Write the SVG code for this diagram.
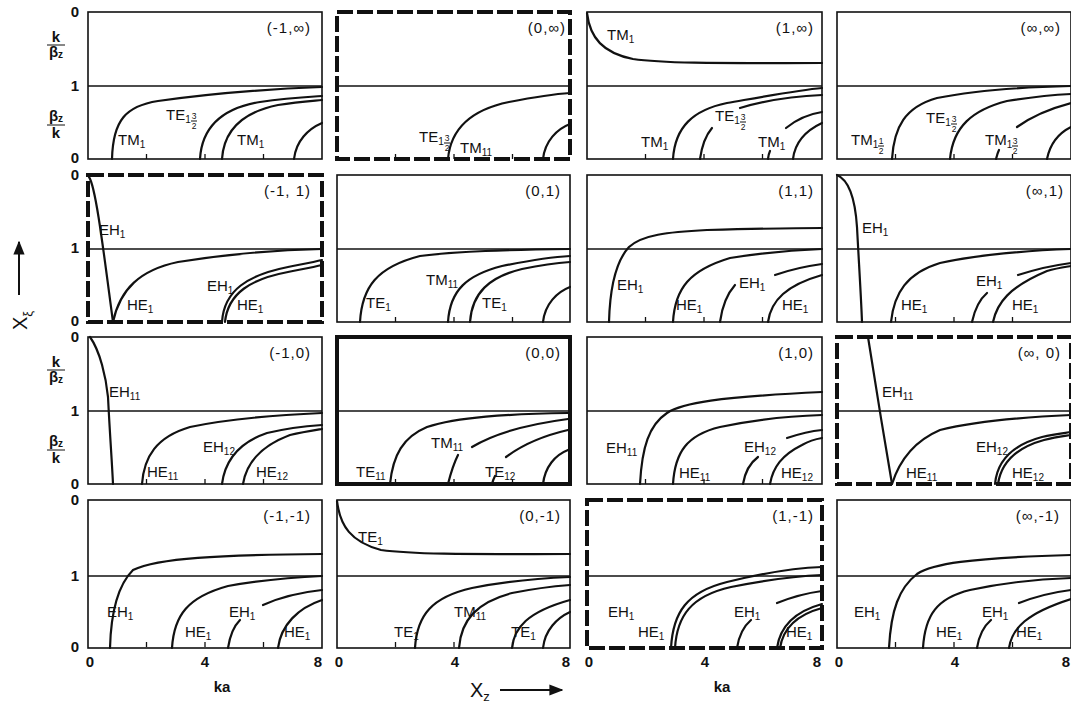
<svg xmlns="http://www.w3.org/2000/svg" width="1071" height="704" viewBox="0 0 1071 704">
<style>
.bg{fill:#fff}
.fr{fill:none;stroke:#111;stroke-width:1.6}
.fb{fill:none;stroke:#111;stroke-width:4}
.fd{fill:none;stroke:#111;stroke-width:4;stroke-dasharray:16 4}
.mid{stroke:#111;stroke-width:1.5}
.tk{stroke:#111;stroke-width:1.3}
.c{fill:none;stroke:#111;stroke-width:2.2;stroke-linecap:round}
text{font-family:"Liberation Sans",Arial,sans-serif;fill:#111}
.l{font-size:15px}
.s{font-size:10px}
.f{font-size:8.5px;text-anchor:middle}
.id{font-size:15px;text-anchor:end;letter-spacing:1px}
.ax{font-size:15px;font-weight:bold;text-anchor:middle}
.fl{stroke:#111;stroke-width:1}
</style>
<defs>
<g id="ticks"><line class="tk" x1="58.5" y1="147" x2="58.5" y2="142"/><line class="tk" x1="117" y1="147" x2="117" y2="142"/><line class="tk" x1="175.5" y1="147" x2="175.5" y2="142"/></g>
<marker id="ah" viewBox="0 0 10 10" refX="9" refY="5" markerWidth="7" markerHeight="7" orient="auto"><path d="M0,1 L10,5 L0,9 z" fill="#111"/></marker>
</defs>
<rect class="bg" x="0" y="0" width="1071" height="704"/>

<!-- Row 1 -->
<g id="p-m1-inf" transform="translate(88,12)">
<rect class="fr" x="0" y="0" width="234" height="147"/>
<line class="mid" x1="0" y1="74" x2="234" y2="74"/><use href="#ticks"/>
<path class="c" d="M24,147 C25,108 38,94 70,89 C120,82 180,77 234,75"/>
<path class="c" d="M112,147 C114,113 136,96 172,90 C198,86 218,85 234,84"/>
<path class="c" d="M134,147 C136,117 156,100 190,93 C210,90 224,89 234,88"/>
<path class="c" d="M206,147 C208,129 220,117 234,111"/>
<text class="l" x="30" y="133">TM<tspan class="s" dy="3">1</tspan></text>
<text class="l" x="78" y="108">TE<tspan class="s" dy="3">1</tspan></text><text class="f" x="106" y="107">3</text><line class="fl" x1="103" y1="109" x2="109" y2="109"/><text class="f" x="106" y="117">2</text>
<text class="l" x="149" y="133">TM<tspan class="s" dy="3">1</tspan></text>
<text class="id" x="223" y="21">(-1,∞)</text>
</g>

<g id="p-0-inf" transform="translate(337,12)">
<rect class="fd" x="0" y="0" width="233" height="147"/>
<line class="mid" x1="0" y1="74" x2="233" y2="74"/><use href="#ticks"/>
<path class="c" d="M111,147 C114,113 138,97 172,90 C198,85 218,82 233,81"/>
<path class="c" d="M206,147 C208,129 220,117 233,112"/>
<text class="l" x="82" y="130">TE<tspan class="s" dy="3">1</tspan></text><text class="f" x="110" y="129">3</text><line class="fl" x1="107" y1="131" x2="113" y2="131"/><text class="f" x="110" y="139">2</text>
<text class="l" x="123" y="141">TM<tspan class="s" dy="3">11</tspan></text>
<text class="id" x="229" y="21">(0,∞)</text>
</g>

<g id="p-1-inf" transform="translate(587,12)">
<rect class="fr" x="0" y="0" width="235" height="147"/>
<line class="mid" x1="0" y1="74" x2="235" y2="74"/><use href="#ticks"/>
<path class="c" d="M0,1 C3,26 16,41 46,47 C80,52 150,51 235,51"/>
<path class="c" d="M86,147 C88,115 106,98 140,91 C180,84 212,78 235,76"/>
<path class="c" d="M113,147 C115,133 119,123 125,116"/>
<path class="c" d="M153,96 C180,88 210,84 235,83"/>
<path class="c" d="M181,147 C181.5,143 182,141 183,139"/>
<path class="c" d="M199,116 C210,107 222,102 235,100"/>
<path class="c" d="M206,147 C208,130 220,118 235,111"/>
<text class="l" x="20" y="28">TM<tspan class="s" dy="3">1</tspan></text>
<text class="l" x="54" y="135">TM<tspan class="s" dy="3">1</tspan></text>
<text class="l" x="128" y="109">TE<tspan class="s" dy="3">1</tspan></text><text class="f" x="156" y="108">3</text><line class="fl" x1="153" y1="110" x2="159" y2="110"/><text class="f" x="156" y="118">2</text>
<text class="l" x="171" y="135">TM<tspan class="s" dy="3">1</tspan></text>
<text class="id" x="227" y="21">(1,∞)</text>
</g>

<g id="p-inf-inf" transform="translate(837,12)">
<rect class="fr" x="0" y="0" width="234" height="147"/>
<line class="mid" x1="0" y1="74" x2="234" y2="74"/><use href="#ticks"/>
<path class="c" d="M55,147 C57,115 68,95 100,86 C140,78 190,75 234,74"/>
<path class="c" d="M113,147 C116,115 135,98 170,89 C195,85 215,83 234,82"/>
<path class="c" d="M159,147 C160,143 161,140 162,138"/>
<path class="c" d="M180,115 C195,104 215,96 234,91"/>
<path class="c" d="M210,147 C213,132 222,121 234,115"/>
<text class="l" x="14" y="133">TM<tspan class="s" dy="3">1</tspan></text><text class="f" x="44" y="132">1</text><line class="fl" x1="41" y1="134" x2="47" y2="134"/><text class="f" x="44" y="142">2</text>
<text class="l" x="89" y="111">TE<tspan class="s" dy="3">1</tspan></text><text class="f" x="117" y="110">3</text><line class="fl" x1="114" y1="112" x2="120" y2="112"/><text class="f" x="117" y="120">2</text>
<text class="l" x="148" y="133">TM<tspan class="s" dy="3">1</tspan></text><text class="f" x="178" y="132">3</text><line class="fl" x1="175" y1="134" x2="181" y2="134"/><text class="f" x="178" y="142">2</text>
<text class="id" x="224" y="21">(∞,∞)</text>
</g>

<!-- Row 2 -->
<g id="p-m1-1" transform="translate(88,175)">
<rect class="fd" x="0" y="0" width="234" height="147"/>
<line class="mid" x1="0" y1="74" x2="234" y2="74"/>
<path class="c" d="M1,2 C8,12 16,80 25,147"/>
<path class="c" d="M25,147 C32,114 52,95 90,87 C140,79 190,75 234,74"/>
<path class="c" d="M134,147 C136,115 160,100 200,92 C215,89 226,87 234,85"/>
<path class="c" d="M137,147 C140,118 163,104 200,97 C215,94 226,92 234,90"/>
<text class="l" x="11" y="60">EH<tspan class="s" dy="3">1</tspan></text>
<text class="l" x="39" y="135">HE<tspan class="s" dy="3">1</tspan></text>
<text class="l" x="119" y="116">EH<tspan class="s" dy="3">1</tspan></text>
<text class="l" x="149" y="135">HE<tspan class="s" dy="3">1</tspan></text>
<text class="id" x="223" y="21">(-1, 1)</text>
</g>

<g id="p-0-1" transform="translate(337,175)">
<rect class="fr" x="0" y="0" width="233" height="147"/>
<line class="mid" x1="0" y1="74" x2="233" y2="74"/><use href="#ticks"/>
<path class="c" d="M23,147 C25,112 40,92 83,81 C120,76 170,75 233,74"/>
<path class="c" d="M111,147 C113,115 130,100 165,91 C195,85 215,82 233,81"/>
<path class="c" d="M133,147 C135,118 152,102 185,94 C205,90 220,88 233,87"/>
<path class="c" d="M206,147 C208,129 220,117 233,112"/>
<text class="l" x="29" y="133">TE<tspan class="s" dy="3">1</tspan></text>
<text class="l" x="89" y="110">TM<tspan class="s" dy="3">11</tspan></text>
<text class="l" x="145" y="133">TE<tspan class="s" dy="3">1</tspan></text>
<text class="id" x="224" y="21">(0,1)</text>
</g>

<g id="p-1-1" transform="translate(587,175)">
<rect class="fr" x="0" y="0" width="235" height="147"/>
<line class="mid" x1="0" y1="74" x2="235" y2="74"/><use href="#ticks"/>
<path class="c" d="M22,147 C23,110 30,85 42,72 C55,60 80,57 120,55 C160,54 200,53 235,53"/>
<path class="c" d="M86,147 C88,113 103,95 143,83 C180,77 210,75 235,74"/>
<path class="c" d="M133,147 C135,132 140,119 148,110"/>
<path class="c" d="M188,100 C205,94 220,91 235,89"/>
<path class="c" d="M181,147 C184,125 200,110 235,100"/>
<text class="l" x="30" y="115">EH<tspan class="s" dy="3">1</tspan></text>
<text class="l" x="89" y="135">HE<tspan class="s" dy="3">1</tspan></text>
<text class="l" x="152" y="113">EH<tspan class="s" dy="3">1</tspan></text>
<text class="l" x="195" y="135">HE<tspan class="s" dy="3">1</tspan></text>
<text class="id" x="227" y="21">(1,1)</text>
</g>

<g id="p-inf-1" transform="translate(837,175)">
<rect class="fr" x="0" y="0" width="234" height="147"/>
<line class="mid" x1="0" y1="74" x2="234" y2="74"/><use href="#ticks"/>
<path class="c" d="M0,0 C12,5 18,22 20,52 C22,90 24,120 25,147"/>
<path class="c" d="M54,147 C57,118 70,98 103,88 C140,80 180,76 234,74"/>
<path class="c" d="M135,147 C138,133 143,124 150,118"/>
<path class="c" d="M181,100 C200,94 218,90 234,88"/>
<path class="c" d="M156,147 C160,128 172,112 210,96 C220,93 228,92 234,91"/>
<text class="l" x="25" y="58">EH<tspan class="s" dy="3">1</tspan></text>
<text class="l" x="64" y="135">HE<tspan class="s" dy="3">1</tspan></text>
<text class="l" x="139" y="111">EH<tspan class="s" dy="3">1</tspan></text>
<text class="l" x="175" y="135">HE<tspan class="s" dy="3">1</tspan></text>
<text class="id" x="227" y="21">(∞,1)</text>
</g>

<!-- Row 3 -->
<g id="p-m1-0" transform="translate(88,337)">
<rect class="fr" x="0" y="0" width="234" height="147"/>
<line class="mid" x1="0" y1="74" x2="234" y2="74"/><use href="#ticks"/>
<path class="c" d="M2,0 C12,14 18,40 20,60 C22,100 24,125 25,147"/>
<path class="c" d="M54,147 C56,120 68,100 102,90 C140,82 190,78 234,76"/>
<path class="c" d="M134,147 C137,124 150,106 179,96 C200,91 220,89 234,88"/>
<path class="c" d="M155,147 C158,128 170,110 202,98 C215,95 228,93 234,92"/>
<text class="l" x="21" y="60">EH<tspan class="s" dy="3">11</tspan></text>
<text class="l" x="59" y="140">HE<tspan class="s" dy="3">11</tspan></text>
<text class="l" x="115" y="115">EH<tspan class="s" dy="3">12</tspan></text>
<text class="l" x="168" y="140">HE<tspan class="s" dy="3">12</tspan></text>
<text class="id" x="223" y="21">(-1,0)</text>
</g>

<g id="p-0-0" transform="translate(337,337)">
<rect class="fb" x="0" y="0" width="233" height="147"/>
<line class="mid" x1="0" y1="74" x2="233" y2="74"/><use href="#ticks"/>
<path class="c" d="M53,147 C56,118 66,100 90,90 C120,80 170,77 231,76"/>
<path class="c" d="M111,147 C114,135 117,126 121,118"/>
<path class="c" d="M135,110 C155,98 185,88 231,82"/>
<path class="c" d="M155,147 C156,143 157,141 158,139"/>
<path class="c" d="M169,120 C185,108 205,99 231,93"/>
<path class="c" d="M206,147 C208,130 218,118 231,113"/>
<text class="l" x="19" y="140">TE<tspan class="s" dy="3">11</tspan></text>
<text class="l" x="94" y="111">TM<tspan class="s" dy="3">11</tspan></text>
<text class="l" x="148" y="140">TE<tspan class="s" dy="3">12</tspan></text>
<text class="id" x="224" y="21">(0,0)</text>
</g>

<g id="p-1-0" transform="translate(587,337)">
<rect class="fr" x="0" y="0" width="235" height="147"/>
<line class="mid" x1="0" y1="74" x2="235" y2="74"/><use href="#ticks"/>
<path class="c" d="M53,147 C55,110 62,88 80,76 C95,66 130,60 235,55"/>
<path class="c" d="M86,147 C88,115 100,98 133,90 C170,82 205,79 235,78"/>
<path class="c" d="M156,147 C158,135 163,126 171,120"/>
<path class="c" d="M200,101 C212,97 225,94 235,93"/>
<path class="c" d="M183,147 C186,130 195,118 215,108 C222,104 229,102 235,101"/>
<text class="l" x="19" y="116">EH<tspan class="s" dy="3">11</tspan></text>
<text class="l" x="92" y="141">HE<tspan class="s" dy="3">11</tspan></text>
<text class="l" x="157" y="115">EH<tspan class="s" dy="3">12</tspan></text>
<text class="l" x="194" y="141">HE<tspan class="s" dy="3">12</tspan></text>
<text class="id" x="227" y="21">(1,0)</text>
</g>

<g id="p-inf-0" transform="translate(837,337)">
<rect class="fd" x="0" y="0" width="234" height="147"/>
<line class="mid" x1="0" y1="74" x2="234" y2="74"/>
<path class="c" d="M31,0 C38,45 47,100 55,147"/>
<path class="c" d="M55,147 C62,125 75,105 103,93 C140,84 190,80 234,78"/>
<path class="c" d="M158,147 C160,125 175,108 205,100 C218,97 228,96 234,95"/>
<path class="c" d="M161,147 C164,127 178,111 207,103 C219,100 228,99 234,98"/>
<text class="l" x="45" y="60">EH<tspan class="s" dy="3">11</tspan></text>
<text class="l" x="69" y="141">HE<tspan class="s" dy="3">11</tspan></text>
<text class="l" x="139" y="115">EH<tspan class="s" dy="3">12</tspan></text>
<text class="l" x="175" y="141">HE<tspan class="s" dy="3">12</tspan></text>
<text class="id" x="224" y="21">(∞, 0)</text>
</g>

<!-- Row 4 -->
<g id="p-m1-m1" transform="translate(88,500)">
<rect class="fr" x="0" y="0" width="234" height="148"/>
<line class="mid" x1="0" y1="76" x2="234" y2="76"/><use href="#ticks"/>
<path class="c" d="M22,148 C23,110 30,85 45,70 C70,58 130,55 234,54"/>
<path class="c" d="M84,148 C86,115 100,97 140,86 C180,79 210,77 234,76"/>
<path class="c" d="M140,148 C142,135 146,126 152,120"/>
<path class="c" d="M175,105 C195,96 215,92 234,90"/>
<path class="c" d="M190,148 C193,125 210,108 234,100"/>
<text class="l" x="19" y="117">EH<tspan class="s" dy="3">1</tspan></text>
<text class="l" x="97" y="137">HE<tspan class="s" dy="3">1</tspan></text>
<text class="l" x="141" y="117">EH<tspan class="s" dy="3">1</tspan></text>
<text class="l" x="196" y="137">HE<tspan class="s" dy="3">1</tspan></text>
<text class="id" x="223" y="21">(-1,-1)</text>
</g>

<g id="p-0-m1" transform="translate(337,500)">
<rect class="fr" x="0" y="0" width="233" height="148"/>
<line class="mid" x1="0" y1="76" x2="233" y2="76"/><use href="#ticks"/>
<path class="c" d="M0,1 C3,26 14,42 44,50 C80,55 150,54 233,54"/>
<path class="c" d="M78,148 C80,115 95,97 135,88 C175,80 210,78 233,77"/>
<path class="c" d="M122,148 C124,120 140,102 175,93 C200,88 220,86 233,85"/>
<path class="c" d="M175,148 C177,128 190,112 233,100"/>
<path class="c" d="M206,148 C208,130 220,118 233,112"/>
<text class="l" x="21" y="42">TE<tspan class="s" dy="3">1</tspan></text>
<text class="l" x="57" y="137">TE<tspan class="s" dy="3">1</tspan></text>
<text class="l" x="117" y="117">TM<tspan class="s" dy="3">11</tspan></text>
<text class="l" x="174" y="137">TE<tspan class="s" dy="3">1</tspan></text>
<text class="id" x="224" y="21">(0,-1)</text>
</g>

<g id="p-1-m1" transform="translate(587,500)">
<rect class="fd" x="0" y="0" width="235" height="148"/>
<line class="mid" x1="0" y1="76" x2="235" y2="76"/>
<path class="c" d="M84,148 C86,112 100,92 140,82 C180,72 210,68 235,67"/>
<path class="c" d="M88,148 C90,116 104,96 144,87 C184,79 212,76 235,75"/>
<path class="c" d="M150,148 C152,135 157,126 164,120"/>
<path class="c" d="M190,103 C205,97 220,93 235,91"/>
<path class="c" d="M190,148 C193,127 206,112 235,104"/>
<path class="c" d="M193,148 C196,129 209,115 235,108"/>
<text class="l" x="21" y="117">EH<tspan class="s" dy="3">1</tspan></text>
<text class="l" x="51" y="137">HE<tspan class="s" dy="3">1</tspan></text>
<text class="l" x="147" y="117">EH<tspan class="s" dy="3">1</tspan></text>
<text class="l" x="199" y="137">HE<tspan class="s" dy="3">1</tspan></text>
<text class="id" x="227" y="21">(1,-1)</text>
</g>

<g id="p-inf-m1" transform="translate(837,500)">
<rect class="fr" x="0" y="0" width="234" height="148"/>
<line class="mid" x1="0" y1="76" x2="234" y2="76"/><use href="#ticks"/>
<path class="c" d="M52,148 C54,110 62,88 80,74 C95,64 130,58 234,55"/>
<path class="c" d="M86,148 C88,115 100,98 133,90 C170,82 205,79 234,78"/>
<path class="c" d="M140,148 C142,135 147,126 154,120"/>
<path class="c" d="M182,103 C200,96 218,92 234,90"/>
<path class="c" d="M172,148 C175,128 190,113 234,99"/>
<text class="l" x="17" y="117">EH<tspan class="s" dy="3">1</tspan></text>
<text class="l" x="99" y="137">HE<tspan class="s" dy="3">1</tspan></text>
<text class="l" x="145" y="117">EH<tspan class="s" dy="3">1</tspan></text>
<text class="l" x="179" y="137">HE<tspan class="s" dy="3">1</tspan></text>
<text class="id" x="223" y="21">(∞,-1)</text>
</g>

<!-- Left axis labels -->
<g id="yaxis">
<text class="ax" x="75" y="17">0</text>
<text class="ax" x="56" y="42">k</text><line class="fl" x1="47" y1="45" x2="65" y2="45" stroke-width="1.5"/><text class="ax" x="56" y="57">β<tspan font-size="10" dy="1">z</tspan></text>
<text class="ax" x="75" y="91">1</text>
<text class="ax" x="56" y="121">β<tspan font-size="10" dy="1">z</tspan></text><line class="fl" x1="47" y1="125" x2="65" y2="125" stroke-width="1.5"/><text class="ax" x="56" y="138">k</text>
<text class="ax" x="75" y="163">0</text>

<text class="ax" x="75" y="180">0</text>
<text class="ax" x="75" y="253">1</text>
<text class="ax" x="75" y="326">0</text>

<text class="ax" x="75" y="342">0</text>
<text class="ax" x="56" y="367">k</text><line class="fl" x1="47" y1="370" x2="65" y2="370" stroke-width="1.5"/><text class="ax" x="56" y="382">β<tspan font-size="10" dy="1">z</tspan></text>
<text class="ax" x="75" y="416">1</text>
<text class="ax" x="56" y="446">β<tspan font-size="10" dy="1">z</tspan></text><line class="fl" x1="47" y1="450" x2="65" y2="450" stroke-width="1.5"/><text class="ax" x="56" y="463">k</text>
<text class="ax" x="75" y="489">0</text>

<text class="ax" x="75" y="505">0</text>
<text class="ax" x="75" y="581">1</text>
<text class="ax" x="75" y="652">0</text>

<line stroke="#111" stroke-width="2" x1="19" y1="295" x2="19" y2="242" marker-end="url(#ah)"/>
<text font-size="20" transform="translate(27,330) rotate(-90)">X<tspan font-size="13" dy="5">ξ</tspan></text>
</g>

<!-- Bottom axis labels -->
<g id="xaxis">
<text class="ax" x="90" y="667">0</text><text class="ax" x="205" y="667">4</text><text class="ax" x="318" y="667">8</text>
<text class="ax" x="339" y="667">0</text><text class="ax" x="455" y="667">4</text><text class="ax" x="566" y="667">8</text>
<text class="ax" x="589" y="667">0</text><text class="ax" x="705" y="667">4</text><text class="ax" x="817" y="667">8</text>
<text class="ax" x="839" y="667">0</text><text class="ax" x="955" y="667">4</text><text class="ax" x="1066" y="667">8</text>
<text class="ax" x="222" y="692" font-size="13">ka</text>
<text class="ax" x="722" y="692" font-size="13">ka</text>
<text font-size="20" x="470" y="697">X<tspan font-size="13" dy="4">z</tspan></text>
<line stroke="#111" stroke-width="2" x1="500" y1="690" x2="562" y2="690" marker-end="url(#ah)"/>
</g>
</svg>
